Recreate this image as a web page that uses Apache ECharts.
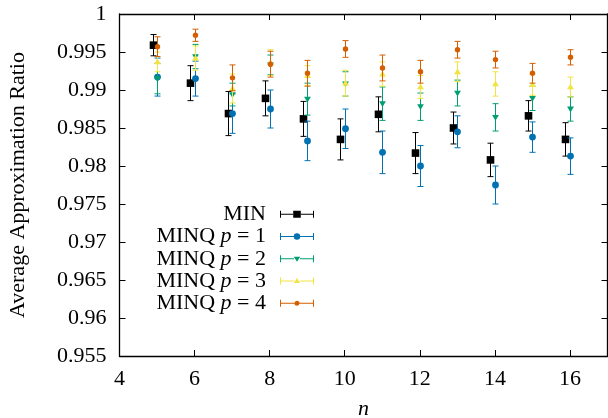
<!DOCTYPE html>
<html><head><meta charset="utf-8">
<script src="https://cdn.jsdelivr.net/npm/echarts@6/dist/echarts.min.js"></script>
<style>html,body{margin:0;padding:0;background:#fff}#c{width:608px;height:418px}</style>
</head><body><div id="c"></div>
<script>
// ---- data ----
const nValues = [5, 6, 7, 8, 9, 10, 11, 12, 13, 14, 15, 16];
const minMean = [0.9959, 0.9909, 0.9869, 0.9889, 0.9862, 0.9835, 0.9868, 0.9817, 0.9850, 0.9808, 0.9866, 0.9835];
const minErr  = [0.0014, 0.0023, 0.0029, 0.0023, 0.0023, 0.0027, 0.0023, 0.0027, 0.0021, 0.0022, 0.0020, 0.0022];
const p1Mean  = [0.9917, 0.9915, 0.9869, 0.9875, 0.9833, 0.9849, 0.9818, 0.9800, 0.9845, 0.9775, 0.9838, 0.9813];
const p1Err   = [0.0025, 0.0023, 0.0026, 0.0025, 0.0026, 0.0026, 0.0028, 0.0027, 0.0021, 0.0025, 0.0020, 0.0024];
const p2Mean  = [0.9915, 0.9944, 0.9894, 0.9933, 0.9888, 0.9908, 0.9882, 0.9878, 0.9896, 0.9864, 0.9889, 0.9875];
const p2Err   = [0.0020, 0.0016, 0.0015, 0.0013, 0.0021, 0.0016, 0.0022, 0.0018, 0.0017, 0.0018, 0.0016, 0.0016];
const p3Mean  = [0.9937, 0.9942, 0.9902, 0.9936, 0.9919, 0.9909, 0.9921, 0.9904, 0.9924, 0.9908, 0.9907, 0.9904];
const p3Err   = [0.0013, 0.0016, 0.0019, 0.0017, 0.0013, 0.0017, 0.0016, 0.0015, 0.0013, 0.0016, 0.0014, 0.0013];
const p4Mean  = [0.9957, 0.9972, 0.9916, 0.9934, 0.9922, 0.9954, 0.9929, 0.9924, 0.9953, 0.9940, 0.9922, 0.9943];
const p4Err   = [0.0013, 0.0008, 0.0017, 0.0017, 0.0017, 0.0011, 0.0017, 0.0015, 0.0011, 0.0011, 0.0013, 0.0010];
const seriesNames = ['MIN', 'MINQ p = 1', 'MINQ p = 2', 'MINQ p = 3', 'MINQ p = 4'];
const xTickLabels = [4, 6, 8, 10, 12, 14, 16];

// ---- style ----
const FONT = 'Liberation Serif';
const colors = ['#000000', '#0072B2', '#009E73', '#F0E442', '#D55E00'];
const shapes = ['square', 'circle', 'down', 'up', 'dot'];
const xShift = [-0.12, 0, 0, 0, 0];
const means = [minMean, p1Mean, p2Mean, p3Mean, p4Mean];
const errs = [minErr, p1Err, p2Err, p3Err, p4Err];

function marker(shape, cx, cy, color) {
  const st = { fill: color };
  switch (shape) {
    case 'square': return { type: 'rect', shape: { x: cx - 3.8, y: cy - 3.8, width: 7.6, height: 7.6 }, style: st };
    case 'circle': return { type: 'circle', shape: { cx, cy, r: 3.4 }, style: st };
    case 'down': return { type: 'polygon', shape: { points: [[cx - 3.4, cy - 2.4], [cx + 3.4, cy - 2.4], [cx, cy + 3.4]] }, style: st };
    case 'up': return { type: 'polygon', shape: { points: [[cx - 3.4, cy + 2.4], [cx + 3.4, cy + 2.4], [cx, cy - 3.4]] }, style: st };
    default: return { type: 'circle', shape: { cx, cy, r: 2.7 }, style: st };
  }
}

function makeRender(idx) {
  const color = colors[idx];
  return function (params, api) {
    const x = api.value(0), y = api.value(1), e = api.value(2);
    const c = api.coord([x, y]);
    const top = api.coord([x, y + e]);
    const bot = api.coord([x, y - e]);
    const px = Math.round(c[0]) + 0.5;
    const ls = { stroke: color, lineWidth: 1 };
    return {
      type: 'group',
      children: [
        { type: 'line', shape: { x1: px, y1: top[1], x2: px, y2: bot[1] }, style: ls },
        { type: 'line', shape: { x1: px - 3, y1: top[1], x2: px + 3, y2: top[1] }, style: ls },
        { type: 'line', shape: { x1: px - 3, y1: bot[1], x2: px + 3, y2: bot[1] }, style: ls },
        marker(shapes[idx], px, c[1], color)
      ]
    };
  };
}

const legendIcons = [
  'path://M0,0h1v7h-1z M33,0h1v7h-1z M0,3h13v1h-13z M21,3h13v1h-13z M13.2,0h7.6v7h-7.6z',
  'path://M0,0h1v7h-1z M33,0h1v7h-1z M0,3h14v1h-14z M20,3h14v1h-14z M17,0.3a3.2,3.2 0 1,1 -0.01,0z',
  'path://M0,0h1v7h-1z M33,0h1v7h-1z M0,3h14v1h-14z M20,3h14v1h-14z M13.8,1.5h6.4l-3.2,5z',
  'path://M0,0h1v7h-1z M33,0h1v7h-1z M0,3h14v1h-14z M20,3h14v1h-14z M13.8,5.5h6.4l-3.2,-5z',
  'path://M0,0h1v7h-1z M33,0h1v7h-1z M0,3h15v1h-15z M19,3h15v1h-15z M17,1a2.5,2.5 0 1,1 -0.01,0z'
];

const series = seriesNames.map((name, i) => ({
  name,
  type: 'custom',
  renderItem: makeRender(i),
  itemStyle: { color: colors[i] },
  encode: { x: 0, y: 1 },
  data: nValues.map((n, k) => [n + xShift[i], means[i][k], errs[i][k]]),
  z: 2 + i
}));

const axisLineStyle = { color: '#000', width: 1.3 };
const tickStyle = { color: '#000', width: 1 };
const baseText = { fontFamily: FONT, fontSize: 22, color: '#000' };

const chart = echarts.init(document.getElementById('c'), null, { renderer: 'canvas' });
chart.setOption({
  animation: false,
  backgroundColor: '#fff',
  grid: { left: 119.5, right: 0.5, top: 14, bottom: 62, containLabel: false, outerBoundsMode: 'none' },
  xAxis: [
    {
      type: 'value', min: 4, max: 17, interval: 2, position: 'bottom',
      axisLine: { show: true, lineStyle: axisLineStyle },
      axisTick: { show: true, inside: true, length: 6, lineStyle: tickStyle },
      axisLabel: {
        ...baseText, margin: 12, showMaxLabel: false,
        formatter: v => (xTickLabels.indexOf(v) >= 0 ? String(v) : '')
      },
      splitLine: { show: false },
      name: 'n', nameLocation: 'middle', nameGap: 42,
      nameTextStyle: { ...baseText, fontStyle: 'italic' }
    },
    {
      type: 'value', min: 4, max: 17, interval: 2, position: 'top',
      axisLine: { show: true, lineStyle: axisLineStyle },
      axisTick: { show: true, inside: true, length: 6, lineStyle: tickStyle },
      axisLabel: { show: false }, splitLine: { show: false }
    }
  ],
  yAxis: [
    {
      type: 'value', min: 0.955, max: 1, interval: 0.005, position: 'left',
      axisLine: { show: true, lineStyle: axisLineStyle },
      axisTick: { show: true, inside: true, length: 6, lineStyle: tickStyle },
      axisLabel: { ...baseText, margin: 13, formatter: v => String(+(+v).toFixed(3)) },
      splitLine: { show: false },
      name: 'Average Approximation Ratio', nameLocation: 'middle', nameRotate: 90, nameGap: 90,
      nameTextStyle: { ...baseText }
    },
    {
      type: 'value', min: 0.955, max: 1, interval: 0.005, position: 'right',
      axisLine: { show: true, lineStyle: axisLineStyle },
      axisTick: { show: true, inside: true, length: 6, lineStyle: tickStyle },
      axisLabel: { show: false }, splitLine: { show: false }
    }
  ],
  legend: {
    orient: 'vertical', align: 'right', right: 294, top: 203, padding: 0,
    itemWidth: 34, itemHeight: 7, itemGap: 0, selectedMode: false,
    itemStyle: { borderWidth: 0 },
    data: seriesNames.map((name, i) => ({ name, icon: legendIcons[i] })),
    formatter: function (name) {
      const m = name.match(/^MINQ p = (\d)$/);
      if (m) return '{r|MINQ }{i|p}{r| = ' + m[1] + '}{g| }';
      return '{r|' + name + '}{g| }';
    },
    textStyle: {
      ...baseText, lineHeight: 22.3,
      rich: {
        r: { ...baseText, lineHeight: 22.3 },
        i: { ...baseText, fontStyle: 'italic', lineHeight: 22.3 },
        g: { ...baseText, width: 9, lineHeight: 22.3 }
      }
    }
  },
  series
});
</script>
</body></html>
